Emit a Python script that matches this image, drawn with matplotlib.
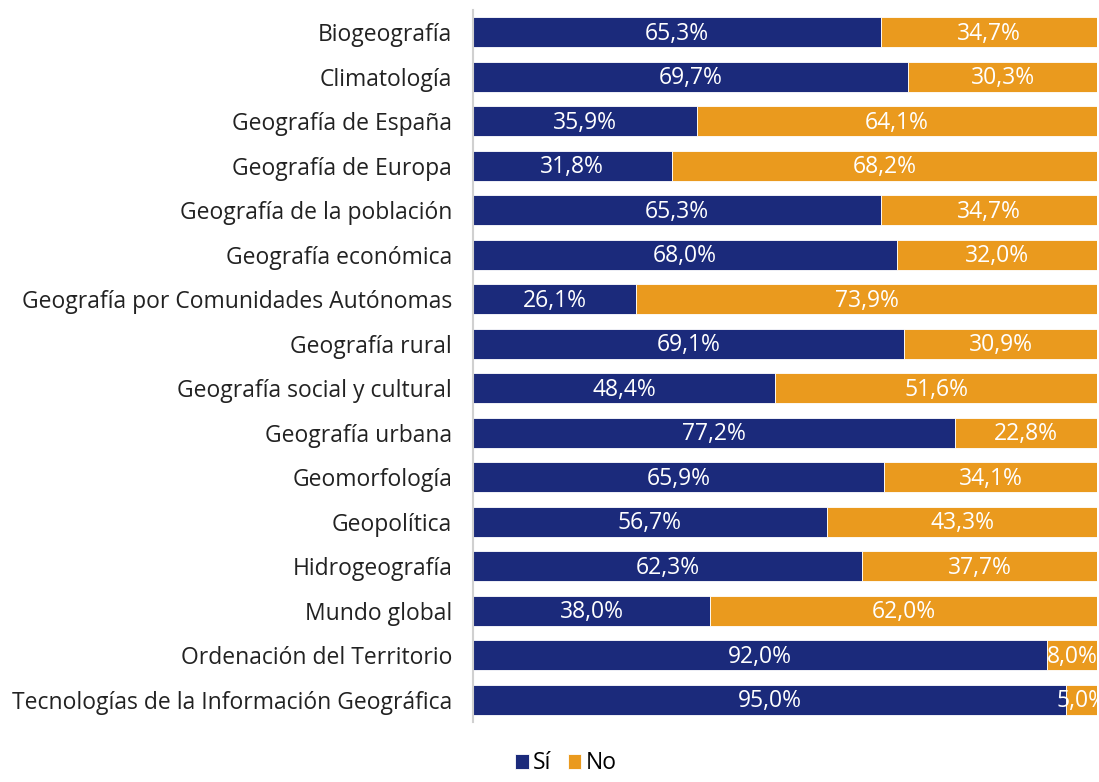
import matplotlib.pyplot as plt
import numpy as np

plt.rcParams['font.family'] = ['Open Sans', 'DejaVu Sans']

# Data
materias = ["Biogeografía", "Climatología", "Geografía de España", "Geografía de Europa",
            "Geografía de la población", "Geografía económica",
            "Geografía por Comunidades Autónomas", "Geografía rural",
            "Geografía social y cultural", "Geografía urbana", "Geomorfología",
            "Geopolítica", "Hidrogeografía", "Mundo global",
            "Ordenación del Territorio", "Tecnologías de la Información Geográfica"]
si = [65.3, 69.7, 35.9, 31.8, 65.3, 68.0, 26.1, 69.1, 48.4, 77.2, 65.9, 56.7, 62.3, 38.0, 92.0, 95.0]
no = [34.7, 30.3, 64.1, 68.2, 34.7, 32.0, 73.9, 30.9, 51.6, 22.8, 34.1, 43.3, 37.7, 62.0, 8.0, 5.0]

navy = '#1b2a7b'
orange = '#ea9a1e'

fig = plt.figure(figsize=(10.99, 7.82), dpi=100)
ax = fig.add_axes([0.4304, 0.0767, 0.568, 0.9105])

y = np.arange(len(materias))
b1 = ax.barh(y, si, height=0.67, color=navy, edgecolor='white', linewidth=0.6, label='Sí')
b2 = ax.barh(y, no, left=si, height=0.67, color=orange, edgecolor='white', linewidth=0.6, label='No')

def fmt(v):
    return f"{v:.1f}%".replace('.', ',')

for bars in (b1, b2):
    for r in bars:
        ax.text(r.get_x() + r.get_width() / 2, r.get_y() + r.get_height() / 2 + 0.03, fmt(r.get_width()),
                ha='center', va='center', color='white', fontsize=16.5)

ax.set_xlim(0, 100)
ax.set_ylim(len(materias) - 0.5, -0.5)
ax.set_yticks(y)
ax.set_yticklabels(materias, fontsize=16.5, color='#222222')
ax.tick_params(axis='y', length=0, pad=15)
ax.set_xticks([])
for s in ['top', 'right', 'bottom']:
    ax.spines[s].set_visible(False)
ax.spines['left'].set_color('#d0d0d0')
ax.spines['left'].set_linewidth(1.5)

fig.legend(handles=[b1, b2], loc='lower center', bbox_to_anchor=(0.515, -0.018), ncol=2,
           frameon=False, fontsize=16.5, handlelength=0.6, handleheight=0.6,
           handletextpad=0.2, columnspacing=0.7)

fig.savefig('out.png', dpi=100)
